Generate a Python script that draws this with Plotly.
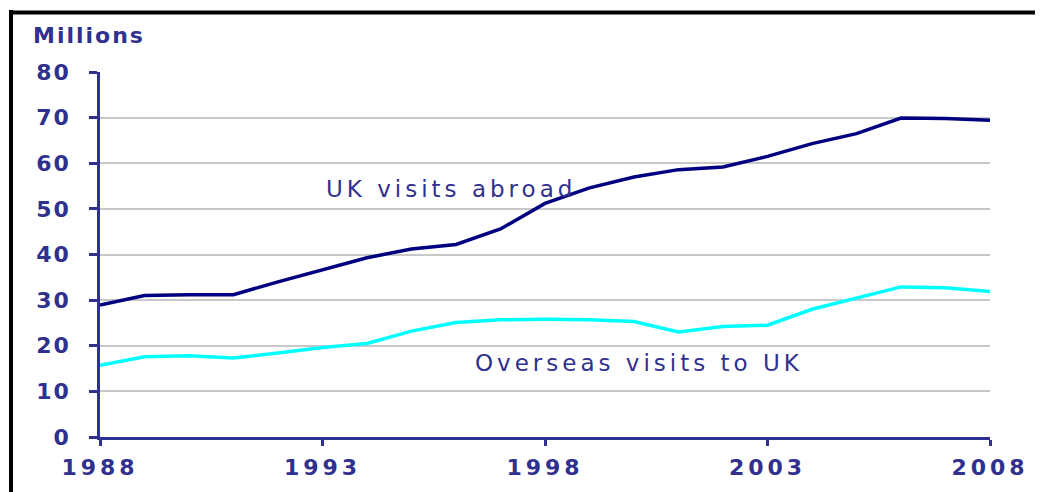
import plotly.graph_objects as go

years = list(range(1988, 2009))
uk_visits_abroad = [28.9, 31.0, 31.2, 31.2, 34.0, 36.7, 39.3, 41.2, 42.2, 45.6, 51.2,
                    54.6, 57.0, 58.6, 59.2, 61.5, 64.3, 66.5, 69.9, 69.8, 69.4]
overseas_visits_to_uk = [15.7, 17.6, 17.8, 17.3, 18.4, 19.6, 20.5, 23.2, 25.1, 25.7, 25.8,
                         25.7, 25.3, 23.0, 24.2, 24.5, 28.0, 30.5, 32.9, 32.7, 31.9]
x_ticks = [1988, 1993, 1998, 2003, 2008]
y_ticks = [0, 10, 20, 30, 40, 50, 60, 70, 80]

TXT = "#30308f"
AX = "#2e3192"
FONT = "DejaVu Sans"

# the page body has an 8px margin; the figure is sized/offset to compensate
OFF = 8
W, H = 1043 - OFF, 492 - OFF
L, R, T, B = 100 - OFF, 53, 72 - OFF, 55
PW, PH = W - L - R, H - T - B


def px_x(sx):
    return (sx - OFF - L) / PW


def px_y(sy):
    return (H - B - (sy - OFF)) / PH


def spaced(s, sp):
    return f'<span style="letter-spacing:{sp}px">{s}</span>'


fig = go.Figure()
fig.add_trace(go.Scatter(x=years, y=uk_visits_abroad, mode="lines",
                         line=dict(color="#000080", width=3.5), name="UK visits abroad"))
fig.add_trace(go.Scatter(x=years, y=overseas_visits_to_uk, mode="lines",
                         line=dict(color="#00ffff", width=3.5), name="Overseas visits to UK"))

fig.update_layout(
    width=W, height=H,
    margin=dict(l=L, r=R, t=T, b=B, pad=0, autoexpand=False),
    paper_bgcolor="white", plot_bgcolor="white",
    showlegend=False,
    font=dict(family=FONT, color=TXT),
)
fig.update_xaxes(
    range=[1988, 2008], tickvals=x_ticks, ticktext=[spaced(str(v), 4) for v in x_ticks],
    showgrid=False, zeroline=False, automargin=False,
    showline=True, linecolor=AX, linewidth=2.5,
    ticks="outside", ticklen=6, tickwidth=2.5, tickcolor=AX,
    tickfont=dict(family=FONT, size=22, color=TXT, weight="bold"),
    ticklabelstandoff=3,
)
fig.update_yaxes(
    range=[0, 80], tickvals=y_ticks, ticktext=[spaced(str(v), 2) for v in y_ticks],
    showgrid=True, gridcolor="#c8c8c8", gridwidth=2, zeroline=False, automargin=False,
    showline=True, linecolor=AX, linewidth=2.5,
    ticks="outside", ticklen=8, tickwidth=2.5, tickcolor=AX,
    tickfont=dict(family=FONT, size=22, color=TXT, weight="bold"),
    ticklabelstandoff=14,
)

fig.add_annotation(text=spaced("Millions", 2), xref="paper", yref="paper",
                   x=px_x(31), y=px_y(36), xanchor="left", yanchor="middle",
                   showarrow=False, font=dict(family=FONT, size=22, color=TXT, weight="bold"))
fig.add_annotation(text=spaced("UK visits abroad", 4), x=1995.89, y=54.3, showarrow=False,
                   font=dict(family=FONT, size=23, color=TXT))
fig.add_annotation(text=spaced("Overseas visits to UK", 4), x=2000.11, y=16.3, showarrow=False,
                   font=dict(family=FONT, size=23, color=TXT))

# black frame (left and top edges)
fig.add_shape(type="line", xref="paper", yref="paper",
              x0=px_x(11), x1=px_x(11), y0=px_y(10), y1=px_y(520),
              line=dict(color="black", width=4))
fig.add_shape(type="line", xref="paper", yref="paper",
              x0=px_x(9), x1=px_x(1060), y0=px_y(12.5), y1=px_y(12.5),
              line=dict(color="black", width=4))

fig.write_html("out.html")
